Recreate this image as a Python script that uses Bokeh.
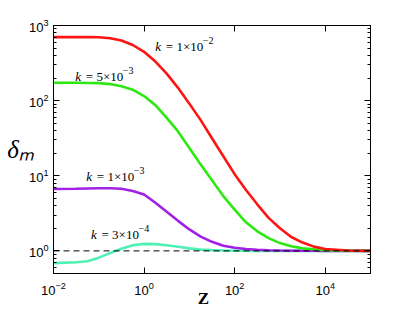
from bokeh.plotting import figure
from bokeh.models import LogAxis, FixedTicker, LogTicker, Span, Label, Range1d
from bokeh.embed import file_html
from bokeh.resources import INLINE

# ---- data ----
z = [0.01, 0.0316, 0.0562, 0.1, 0.178, 0.316, 0.562, 1.0, 1.78, 3.16, 5.62, 10.0,
     17.8, 31.6, 56.2, 100.0, 178.0, 316.0, 562.0, 1000.0, 1780.0, 3160.0,
     5620.0, 10000.0, 31600.0, 100000.0]

delta_k1e2 = [700, 700, 700, 697, 676, 631, 550, 447, 331, 229, 148, 91.2,
              55.0, 31.6, 18.2, 10.5, 6.46, 4.17, 2.75, 2.00, 1.53, 1.29,
              1.14, 1.06, 1.014, 1.0]
delta_k5e3 = [173, 173, 172, 171, 166, 155, 140, 115, 87.1, 58.9, 38.9, 23.4,
              14.1, 8.71, 5.37, 3.55, 2.40, 1.82, 1.48, 1.27, 1.15, 1.08,
              1.05, 1.02, 1.007, 1.0]
delta_k1e3 = [6.65, 6.73, 6.78, 6.81, 6.82, 6.70, 6.27, 5.62, 4.37, 3.31, 2.51, 1.93,
              1.55, 1.32, 1.17, 1.10, 1.06, 1.035, 1.02, 1.01, 1.006, 1.004,
              1.002, 1.0, 1.0, 1.0]
delta_k3e4 = [0.687, 0.705, 0.728, 0.813, 0.933, 1.07, 1.19, 1.24, 1.23, 1.19, 1.135, 1.08,
              1.04, 1.023, 1.01, 1.005, 1.002, 1.0, 1.0, 1.0, 1.0, 1.0,
              1.0, 1.0, 1.0, 1.0]

k_mantissa = ["1", "5", "1", "3"]
k_exponent = ["−2", "−3", "−3", "−4"]

x_ticks = [1e-2, 1e0, 1e2, 1e4]
reference_level = 1.0
x_title = "Z"
y_title = "δₘ"

# ---- styling / layout ----
colors = ["#ff1414", "#2ee812", "#a020e8", "#4ef0b4"]
label_pos = [(1.77, 528), (0.0303, 211), (0.053, 9.9), (0.0673, 1.63)]

p = figure(width=403, height=310, x_axis_type="log", y_axis_type="log",
           x_range=Range1d(1e-2, 1e5), y_range=Range1d(0.5, 1000),
           output_backend="svg", toolbar_location=None,
           min_border_left=53, min_border_right=33, min_border_top=25,
           min_border_bottom=36)
p.background_fill_color = "white"
p.border_fill_color = "white"
p.xgrid.visible = False
p.ygrid.visible = False
p.outline_line_color = "black"

serif = "Liberation Serif"


def style_axis(ax, show_labels=True):
    ax.axis_line_color = "black"
    ax.axis_line_width = 1
    ax.major_tick_in = 6
    ax.major_tick_out = 0
    ax.minor_tick_in = 3
    ax.minor_tick_out = 0
    ax.major_tick_line_color = "black"
    ax.minor_tick_line_color = "black"
    ax.major_label_text_font = "Liberation Sans"
    if show_labels:
        ax.major_label_text_color = "black"
        ax.major_label_text_font_size = "13px"
    else:
        ax.major_label_text_color = None
        ax.major_label_text_font_size = "4px"


xax = p.xaxis[0]
yax = p.yaxis[0]
xax.ticker = FixedTicker(ticks=x_ticks, minor_ticks=[])
yax.ticker = LogTicker(num_minor_ticks=10)
style_axis(xax)
style_axis(yax)
xax.major_label_standoff = 8
yax.major_label_standoff = 5

xax.axis_label = x_title + "\u00a0\u00a0\u00a0\u00a0"
xax.axis_label_text_font = serif
xax.axis_label_text_font_style = "bold"
xax.axis_label_text_font_size = "17px"
xax.axis_label_text_color = "black"
xax.axis_label_standoff = -9

yax.axis_label = y_title
yax.axis_label_text_font = serif
yax.axis_label_text_font_style = "italic"
yax.axis_label_text_font_size = "25px"
yax.axis_label_text_color = "black"
yax.axis_label_standoff = -8
if "axis_label_orientation" in yax.properties():
    yax.axis_label_orientation = "horizontal"

top = LogAxis(ticker=FixedTicker(ticks=x_ticks, minor_ticks=[]))
style_axis(top, False)
top.major_label_standoff = 0
p.add_layout(top, "above")
right = LogAxis(ticker=LogTicker(num_minor_ticks=10))
style_axis(right, False)
right.major_label_standoff = 0
p.add_layout(right, "right")

all_series = [delta_k1e2, delta_k5e3, delta_k1e3, delta_k3e4]
for i in [3, 2, 1, 0]:
    p.line(z, all_series[i], line_color=colors[i], line_width=2.6)

p.add_layout(Span(location=reference_level, dimension="width",
                  line_color="black", line_width=1, line_dash="6 4"))

for i in range(4):
    x, y = label_pos[i]
    p.add_layout(Label(x=x, y=y, text="k", text_font=serif,
                       text_font_style="italic", text_font_size="13px",
                       text_color="black", text_baseline="alphabetic"))
    p.add_layout(Label(x=x, y=y, x_offset=10.5,
                       text="= " + k_mantissa[i] + "×10", text_font=serif,
                       text_font_size="13px", text_color="black",
                       text_baseline="alphabetic"))
    p.add_layout(Label(x=x, y=y, x_offset=47.5, y_offset=6,
                       text=k_exponent[i], text_font=serif,
                       text_font_size="10px", text_color="black",
                       text_baseline="alphabetic"))

open("out.html", "w").write(file_html(p, INLINE))
